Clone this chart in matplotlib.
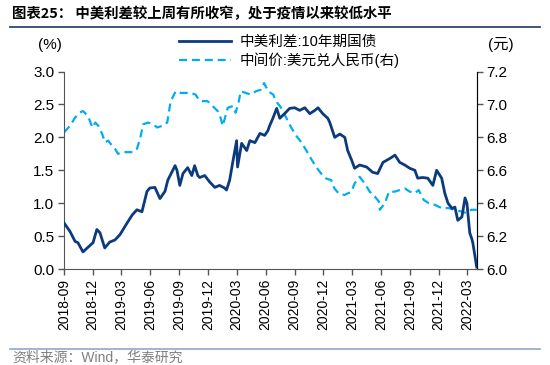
import pandas as pd
import numpy as np
import matplotlib
matplotlib.use('Agg')
import matplotlib.pyplot as plt
from matplotlib.lines import Line2D

plt.rcParams['font.family'] = ['Liberation Sans', 'Noto Sans CJK SC', 'DejaVu Sans']

# 中美利差:10年期国债 (%)
spread_dates = ['2018-09-01', '2018-09-20', '2018-10-06', '2018-10-15', '2018-10-31', '2018-11-16',
                '2018-12-02', '2018-12-14', '2018-12-24', '2019-01-08', '2019-01-24', '2019-02-09',
                '2019-02-25', '2019-03-20', '2019-04-05', '2019-04-20', '2019-05-06', '2019-05-22',
                '2019-05-31', '2019-06-16', '2019-07-02', '2019-07-18', '2019-07-27', '2019-08-19',
                '2019-08-25', '2019-09-03', '2019-09-13', '2019-09-28', '2019-10-11', '2019-10-20',
                '2019-10-30', '2019-11-05', '2019-11-21', '2019-12-07', '2019-12-23', '2020-01-07',
                '2020-01-23', '2020-01-29', '2020-02-08', '2020-02-17', '2020-03-01', '2020-03-04',
                '2020-03-17', '2020-04-02', '2020-04-12', '2020-04-28', '2020-05-14', '2020-05-29',
                '2020-06-08', '2020-06-14', '2020-06-24', '2020-07-06', '2020-07-16', '2020-07-31',
                '2020-08-16', '2020-09-01', '2020-09-17', '2020-10-03', '2020-10-19', '2020-11-04',
                '2020-11-14', '2020-11-29', '2020-12-15', '2020-12-21', '2021-01-06', '2021-01-22',
                '2021-02-07', '2021-02-16', '2021-03-01', '2021-03-10', '2021-03-26', '2021-04-17',
                '2021-05-06', '2021-05-22', '2021-06-08', '2021-06-30', '2021-07-16', '2021-07-31',
                '2021-08-16', '2021-09-01', '2021-09-17', '2021-09-26', '2021-10-12', '2021-10-28',
                '2021-11-13', '2021-11-25', '2021-12-11', '2021-12-21', '2021-12-31', '2022-01-13',
                '2022-01-22', '2022-01-31', '2022-02-13', '2022-02-23', '2022-03-01', '2022-03-04',
                '2022-03-10', '2022-03-17', '2022-03-20', '2022-04-01']
spread_vals = [0.70, 0.57, 0.42, 0.40, 0.26, 0.33,
               0.40, 0.60, 0.55, 0.32, 0.41, 0.44,
               0.52, 0.70, 0.82, 0.90, 0.87, 1.18,
               1.23, 1.24, 1.07, 1.18, 1.35, 1.57,
               1.50, 1.27, 1.45, 1.54, 1.42, 1.57,
               1.42, 1.39, 1.42, 1.32, 1.24, 1.27,
               1.23, 1.20, 1.35, 1.60, 1.95, 1.55,
               1.91, 1.80, 1.95, 1.92, 2.06, 2.03,
               2.10, 2.18, 2.29, 2.44, 2.29, 2.36,
               2.44, 2.45, 2.41, 2.45, 2.36, 2.41,
               2.45, 2.36, 2.29, 2.23, 2.00, 2.05,
               2.00, 1.80, 1.65, 1.53, 1.58, 1.55,
               1.47, 1.45, 1.62, 1.68, 1.73, 1.62,
               1.58, 1.53, 1.50, 1.38, 1.39, 1.38,
               1.27, 1.50, 1.38, 1.15, 1.00, 0.92,
               0.94, 0.74, 0.79, 1.08, 1.00, 0.85,
               0.55, 0.45, 0.39, 0.03]

# 中间价:美元兑人民币 (元), right axis
cny_dates = ['2018-09-01', '2018-09-20', '2018-10-06', '2018-10-21', '2018-10-31', '2018-11-16',
             '2018-11-30', '2018-12-09', '2018-12-19', '2018-12-31', '2019-01-09', '2019-01-19',
             '2019-01-31', '2019-02-10', '2019-02-19', '2019-03-07', '2019-03-23', '2019-04-08',
             '2019-04-20', '2019-04-30', '2019-05-10', '2019-05-26', '2019-06-10', '2019-06-23',
             '2019-07-09', '2019-07-25', '2019-08-05', '2019-08-21', '2019-09-06', '2019-09-22',
             '2019-10-08', '2019-10-23', '2019-11-02', '2019-11-08', '2019-11-30', '2019-12-16',
             '2020-01-01', '2020-01-10', '2020-01-17', '2020-02-02', '2020-02-18', '2020-02-27',
             '2020-03-08', '2020-03-14', '2020-03-30', '2020-04-15', '2020-05-01', '2020-05-17',
             '2020-05-27', '2020-06-09', '2020-06-25', '2020-07-04', '2020-07-20', '2020-08-05',
             '2020-08-21', '2020-09-06', '2020-09-22', '2020-10-08', '2020-10-23', '2020-11-08',
             '2020-11-24', '2020-12-10', '2020-12-26', '2021-01-05', '2021-01-18', '2021-02-06',
             '2021-02-28', '2021-03-10', '2021-03-26', '2021-04-11', '2021-04-27', '2021-05-13',
             '2021-05-26', '2021-05-29', '2021-06-14', '2021-06-27', '2021-07-15', '2021-07-31',
             '2021-08-16', '2021-09-01', '2021-09-17', '2021-09-29', '2021-10-15', '2021-10-31',
             '2021-11-19', '2021-12-11', '2022-01-02', '2022-01-21', '2022-02-11', '2022-02-27',
             '2022-03-15', '2022-04-01']
cny_vals = [6.83, 6.87, 6.92, 6.95, 6.96, 6.93,
            6.86, 6.89, 6.87, 6.82, 6.77, 6.78,
            6.75, 6.73, 6.70, 6.71, 6.71, 6.71,
            6.73, 6.79, 6.88, 6.89, 6.88, 6.86,
            6.87, 6.89, 7.02, 7.08, 7.07, 7.07,
            7.07, 7.06, 7.03, 7.02, 7.02, 6.99,
            6.96, 6.92, 6.87, 6.98, 6.99, 6.95,
            7.02, 7.08, 7.07, 7.06, 7.08, 7.09,
            7.13, 7.08, 7.06, 7.02, 6.98, 6.92,
            6.86, 6.81, 6.77, 6.72, 6.67, 6.62,
            6.58, 6.55, 6.54, 6.49, 6.46, 6.45,
            6.47, 6.52, 6.56, 6.52, 6.47, 6.44,
            6.41, 6.36, 6.40, 6.47, 6.47, 6.48,
            6.49, 6.47, 6.46, 6.48, 6.42, 6.40,
            6.39, 6.37, 6.37, 6.36, 6.35, 6.34,
            6.36, 6.36]

left_ticks = [0.0, 0.5, 1.0, 1.5, 2.0, 2.5, 3.0]
right_ticks = [6.0, 6.2, 6.4, 6.6, 6.8, 7.0, 7.2]
x_ticks = pd.date_range('2018-09-01', '2022-03-01', freq='3MS')

navy = '#0B3B7D'
sky = '#00AEEF'
dash = (0, (3.6, 2.2))

fig = plt.figure(figsize=(5.5, 3.65), dpi=100)
ax = fig.add_axes([0.1164, 0.263, 0.7509, 0.541])
ax2 = ax.twinx()

ax.plot(pd.to_datetime(spread_dates), spread_vals, color=navy, lw=2.0, zorder=3)
ax2.plot(pd.to_datetime(cny_dates), cny_vals, color=sky, lw=1.6, ls=dash)

ax.set_zorder(ax2.get_zorder() + 1)
ax.patch.set_visible(False)

ax.set_ylim(0, 3.0)
ax2.set_ylim(6.0, 7.2)
ax.set_xlim(pd.Timestamp('2018-09-01'), pd.Timestamp('2022-04-02'))
ax.set_yticks(left_ticks)
ax.set_yticklabels(['%.1f' % v for v in left_ticks])
ax2.set_yticks(right_ticks)
ax2.set_yticklabels(['%.1f' % v for v in right_ticks])
ax.set_xticks(x_ticks)
ax.set_xticklabels([d.strftime('%Y-%m') for d in x_ticks], rotation=90)

for a in (ax, ax2):
    a.spines['top'].set_visible(False)
    a.tick_params(labelsize=11, length=4, width=1, color='#555555', pad=3)
ax.spines['left'].set_color('#555555')
ax.spines['bottom'].set_color('#555555')
ax2.spines['right'].set_color('#777777')
ax2.spines['left'].set_visible(False)
ax2.spines['bottom'].set_visible(False)
ax.tick_params(axis='x', labelsize=10)

fig.text(0.091, 0.878, '(%)', fontsize=11, ha='center', va='center')
fig.text(0.91, 0.878, '(元)', fontsize=11, ha='center', va='center')

handles = [Line2D([], [], color=navy, lw=2.0),
           Line2D([], [], color=sky, lw=1.6, ls=dash)]
fig.legend(handles, ['中美利差:10年期国债', '中间价:美元兑人民币(右)'],
           loc='upper left', bbox_to_anchor=(0.325, 0.905), frameon=False,
           fontsize=10.5, handlelength=3.6, handletextpad=0.55, labelspacing=0.25,
           borderaxespad=0, borderpad=0)

fig.text(0.022, 0.963, '图表25： 中美利差较上周有所收窄，处于疫情以来较低水平',
         fontsize=10.4, fontweight='bold', ha='left', va='center',
         family=['Noto Sans CJK SC', 'DejaVu Sans'])
fig.add_artist(Line2D([0.018, 0.982], [0.925, 0.925], color='#2F4A6D', lw=1.3))
fig.add_artist(Line2D([0.018, 0.982], [0.044, 0.044], color='#8FA8C8', lw=1.2))
fig.text(0.022, 0.021, '资料来源：Wind，华泰研究', fontsize=10, color='#7F7F7F',
         ha='left', va='center')

fig.savefig('out.png', dpi=100)
